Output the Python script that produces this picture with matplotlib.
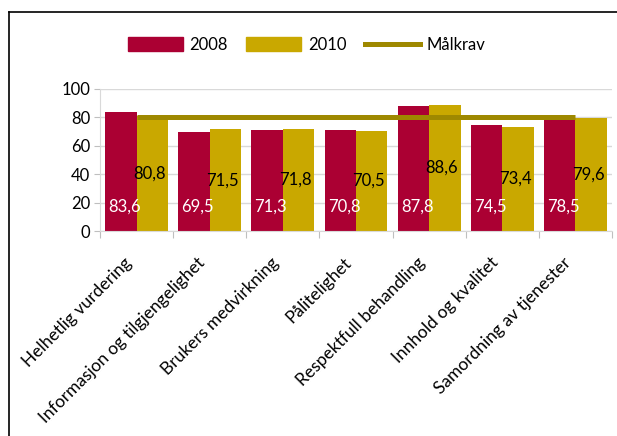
import numpy as np
import matplotlib.pyplot as plt
from matplotlib.patches import Patch
from matplotlib.lines import Line2D
from matplotlib.transforms import ScaledTranslation

plt.rcParams['font.family'] = ['Lato', 'DejaVu Sans']

# Daten
kategorier = ['Helhetlig vurdering', 'Informasjon og tilgjengelighet', 'Brukers medvirkning',
              'Pålitelighet', 'Respektfull behandling', 'Innhold og kvalitet',
              'Samordning av tjenester']
verdier_2008 = [83.6, 69.5, 71.3, 70.8, 87.8, 74.5, 78.5]
verdier_2010 = [80.8, 71.5, 71.8, 70.5, 88.6, 73.4, 79.6]
maalkrav = [80, 80, 80, 80, 80, 80, 80]

rod = '#AB0033'
gull = '#C9A800'
oliven = '#9E8800'

fig = plt.figure(figsize=(6.17, 4.36), dpi=100)
ax = fig.add_axes([0.162, 0.470, 0.830, 0.326])

x = np.arange(len(kategorier))
b = 0.43
ax.bar(x - b / 2, verdier_2008, width=b, color=rod, zorder=2)
ax.bar(x + b / 2, verdier_2010, width=b, color=gull, zorder=2)
ax.plot(x, maalkrav, color=oliven, lw=3.6, solid_capstyle='butt', zorder=3)

# Dataetiketter
for i in range(len(x)):
    ax.text(x[i] - b / 2 + 0.05, 17, f'{verdier_2008[i]:.1f}'.replace('.', ','),
            color='white', ha='center', va='center', fontsize=12, zorder=4)
    ax.text(x[i] + b / 2 - 0.04, verdier_2010[i] / 2, f'{verdier_2010[i]:.1f}'.replace('.', ','),
            color='black', ha='center', va='center', fontsize=12, zorder=4)

ax.set_xlim(-0.5, len(x) - 0.5)
ax.set_ylim(0, 100)
ax.set_yticks(np.arange(0, 101, 20))
ax.yaxis.grid(True, color='#D9D9D9', lw=1, zorder=0)
ax.tick_params(axis='y', labelsize=12, length=4, color='#BFBFBF', pad=3)

# Kategoriskillelinjer
ax.set_xticks(np.arange(-0.5, len(x), 1.0))
ax.set_xticklabels([])
ax.tick_params(axis='x', length=5, color='#BFBFBF')

# Kategorinavn, skrått
forskyv = ScaledTranslation(-0.07, -0.29, fig.dpi_scale_trans)
for i in range(len(x)):
    ax.text(x[i], 0, kategorier[i], rotation=45, ha='right', va='center',
            rotation_mode='anchor', fontsize=12.5,
            transform=ax.get_xaxis_transform() + forskyv)

for s in ['top', 'right']:
    ax.spines[s].set_visible(False)
ax.spines['left'].set_color('#D9D9D9')
ax.spines['bottom'].set_color('#D9D9D9')

handles = [Patch(color=rod), Patch(color=gull), Line2D([0], [0], color=oliven, lw=3.6)]
fig.legend(handles, ['2008', '2010', 'Målkrav'], loc='center', bbox_to_anchor=(0.497, 0.897),
           ncol=3, frameon=False, fontsize=12, handlelength=3.3, handleheight=0.9,
           columnspacing=1.1, handletextpad=0.4)

# Ramme
fig.add_artist(Line2D([9 / 617, 9 / 617], [0, 1 - 12 / 436], color='black', lw=1.2,
                      transform=fig.transFigure))
fig.add_artist(Line2D([9 / 617, 1], [1 - 12 / 436, 1 - 12 / 436], color='black', lw=1.2,
                      transform=fig.transFigure))

fig.savefig('out.png', dpi=100)
